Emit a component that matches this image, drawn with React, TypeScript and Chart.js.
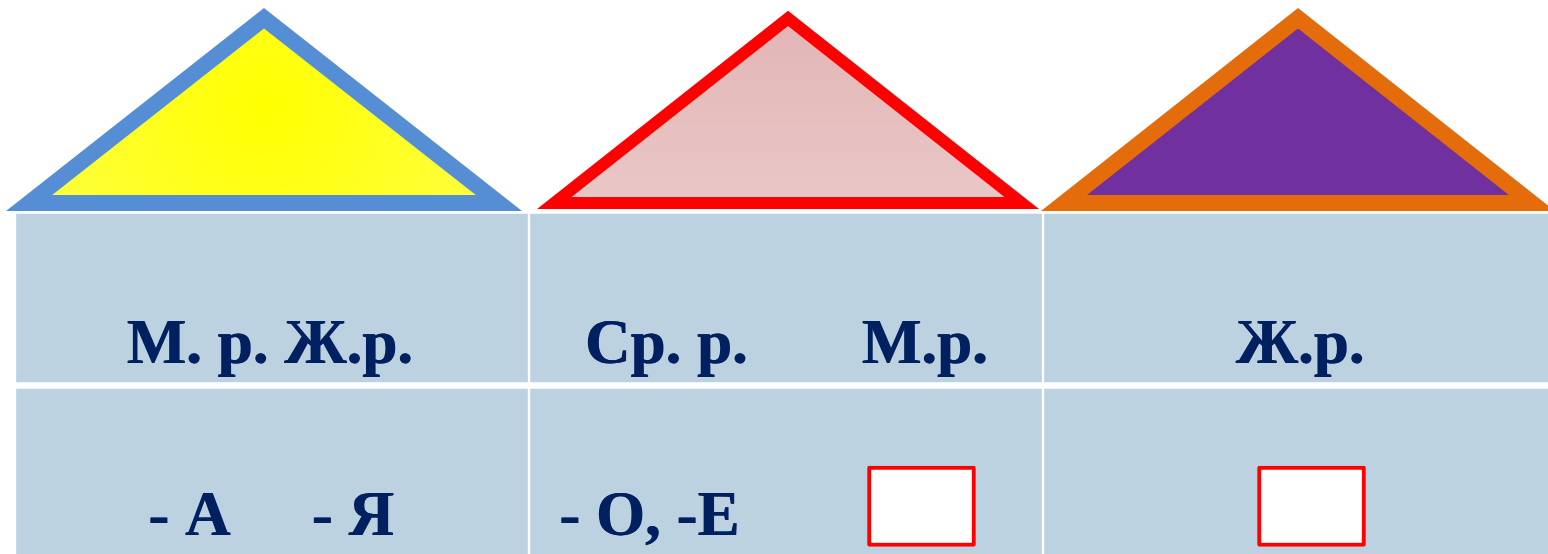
import React, { useEffect, useRef } from "react";
import { Chart, registerables } from "chart.js";

Chart.register(...registerables);

// ---------- data ----------
const columns = ["Дом 1", "Дом 2", "Дом 3"];
const rows = ["Род", "Окончание"];
const genderLabels = ["М. р. Ж.р.", "Ср. р.", "М.р.", "Ж.р."];
const genderColumn = [0, 1, 1, 2];
const endingLabels = ["- А", "- Я", "- О, -Е"];
const endingColumn = [0, 0, 1];
const blankColumn = [1, 2];

// ---------- styles ----------
const roofStroke = ["#558ED5", "#FF0000", "#E46C0A"];
const CELL_COLOR = "#BDD2E0";
const TEXT_COLOR = "#002060";
const FONT = 'bold 63px "Liberation Serif", "Times New Roman", serif';

// ---------- layout (column units on x, row units on y) ----------
const W = 1548;
const H = 554;
const X_RANGE = [-0.0292, 2.9825];
const Y_RANGE = [0.037, 3.203];
const PX_X = W / (X_RANGE[1] - X_RANGE[0]);
const PX_Y = H / (Y_RANGE[1] - Y_RANGE[0]);
const LAYOUT = {
  roofs: [
    { center: 0.4844, half: 0.502, base: 1.997, top: 3.157, border: 16 },
    { center: 1.5039, half: 0.4883, base: 2.0086, top: 3.1417, border: 12 },
    { center: 2.4961, half: 0.5, base: 1.997, top: 3.157, border: 16 },
  ],
  genderOffset: [-0.004, -0.2325, 0.2704, 0.0006],
  endingOffset: [-0.1605, 0.1576, -0.2656],
  blankOffset: [0.2636, 0.0224],
  genderBaseline: 0.1286,
  endingBaseline: 0.1457,
  blankRange: [0.08, 0.54],
  blankWidth: 108,
};

function roofPoints(i: number, inner: boolean) {
  const r = LAYOUT.roofs[i];
  const wPx = r.half * PX_X;
  const hPx = (r.top - r.base) * PX_Y;
  const th = Math.atan2(hPx, wPx);
  const d = inner ? r.border : 0;
  const dx = (d / Math.tan(th) + d / Math.sin(th)) / PX_X;
  const base = r.base + d / PX_Y;
  const top = r.top - d / Math.cos(th) / PX_Y;
  return [
    { x: r.center - r.half + dx, y: base },
    { x: r.center, y: top },
    { x: r.center + r.half - dx, y: base },
  ];
}

function roofFill(i: number) {
  return (c: any) => {
    const chart = c.chart;
    const { x, y } = chart.scales || {};
    const fallback = ["#FFFF14", "#E6BFBF", "#7030A0"][i];
    if (!chart.chartArea || !x || !y) return fallback;
    const r = LAYOUT.roofs[i];
    const ctx = chart.ctx;
    if (i === 0) {
      const cx = x.getPixelForValue(r.center);
      const cy = y.getPixelForValue(r.base + (r.top - r.base) * 0.52);
      const g = ctx.createRadialGradient(cx, cy, 0, cx, cy, 260);
      g.addColorStop(0, "#FFFF00");
      g.addColorStop(1, "#FFFF45");
      return g;
    }
    if (i === 1) {
      const g = ctx.createLinearGradient(0, y.getPixelForValue(r.top), 0, y.getPixelForValue(r.base));
      g.addColorStop(0, "#E2B4B4");
      g.addColorStop(1, "#EAC8C8");
      return g;
    }
    return "#7030A0";
  };
}

const textPlugin = {
  id: "cellText",
  afterDatasetsDraw(chart: any) {
    const { ctx } = chart;
    const { x, y } = chart.scales;
    ctx.save();
    ctx.font = FONT;
    ctx.fillStyle = TEXT_COLOR;
    ctx.textAlign = "center";
    ctx.textBaseline = "alphabetic";
    const put = (t: string, px: number, py: number) => {
      ctx.fillText(t, px - 0.4, py);
      ctx.fillText(t, px + 0.4, py);
    };
    genderLabels.forEach((t, i) => {
      put(
        t,
        x.getPixelForValue(genderColumn[i] + 0.5 + LAYOUT.genderOffset[i]),
        y.getPixelForValue(1 + LAYOUT.genderBaseline)
      );
    });
    endingLabels.forEach((t, i) => {
      put(
        t,
        x.getPixelForValue(endingColumn[i] + 0.5 + LAYOUT.endingOffset[i]),
        y.getPixelForValue(0 + LAYOUT.endingBaseline)
      );
    });
    ctx.restore();
  },
};

export default function App() {
  const ref = useRef<HTMLCanvasElement | null>(null);

  useEffect(() => {
    document.body.style.margin = "0";
    if (!ref.current) return;

    const cellBorder = { left: 1.5, right: 1.5, top: 3.5, bottom: 3.5 };
    const datasets: any[] = [];

    // table cells: row 0 = gender header (upper), row 1 = endings (lower)
    rows.forEach((row, ri) => {
      datasets.push({
        type: "bar",
        label: row,
        data: columns.map((_, ci) => ({ x: ci + 0.5, y: [1 - ri, 2 - ri] })),
        backgroundColor: CELL_COLOR,
        borderColor: "#FFFFFF",
        borderWidth: cellBorder,
        borderSkipped: false,
        grouped: false,
        barThickness: PX_X,
        xAxisID: "x",
        order: 10,
      });
    });

    // blank answer boxes
    datasets.push({
      type: "bar",
      label: "blank",
      data: blankColumn.map((c, i) => ({
        x: c + 0.5 + LAYOUT.blankOffset[i],
        y: LAYOUT.blankRange,
      })),
      backgroundColor: "#FFFFFF",
      borderColor: "#FF0000",
      borderWidth: 4,
      borderRadius: 2,
      borderSkipped: false,
      grouped: false,
      barThickness: LAYOUT.blankWidth,
      xAxisID: "xb",
      order: 8,
    });

    // roofs: outer (border colour) then inner (fill colour)
    columns.forEach((col, i) => {
      const r = LAYOUT.roofs[i];
      const inner = roofPoints(i, true);
      datasets.push({
        type: "line",
        label: col + " outer",
        data: roofPoints(i, false),
        borderWidth: 0,
        pointRadius: 0,
        tension: 0,
        backgroundColor: roofStroke[i],
        fill: { value: r.base },
        xAxisID: "x",
        order: 6 - i * 0.1,
        clip: false,
      });
      datasets.push({
        type: "line",
        label: col + " inner",
        data: inner,
        borderWidth: 0,
        pointRadius: 0,
        tension: 0,
        backgroundColor: roofFill(i),
        fill: { value: inner[0].y },
        xAxisID: "x",
        order: 5.9 - i * 0.1,
        clip: false,
      });
    });

    const linearAxis = (min: number, max: number) => ({
      type: "linear",
      min,
      max,
      offset: false,
      display: false,
      grid: { offset: false },
    });

    const chart = new Chart(ref.current, {
      type: "bar",
      data: { datasets },
      options: {
        animation: false,
        responsive: false,
        maintainAspectRatio: false,
        layout: { padding: 0 },
        events: [],
        scales: {
          x: linearAxis(X_RANGE[0], X_RANGE[1]),
          xb: linearAxis(X_RANGE[0], X_RANGE[1]),
          y: linearAxis(Y_RANGE[0], Y_RANGE[1]),
        },
        plugins: {
          legend: { display: false },
          tooltip: { enabled: false },
          title: { display: false },
        },
      } as any,
      plugins: [textPlugin],
    });

    return () => chart.destroy();
  }, []);

  return (
    <div style={{ position: "fixed", left: 0, top: 0, width: W, height: H, background: "#FFFFFF" }}>
      <canvas ref={ref} width={W} height={H} style={{ display: "block", width: W, height: H }} />
    </div>
  );
}
